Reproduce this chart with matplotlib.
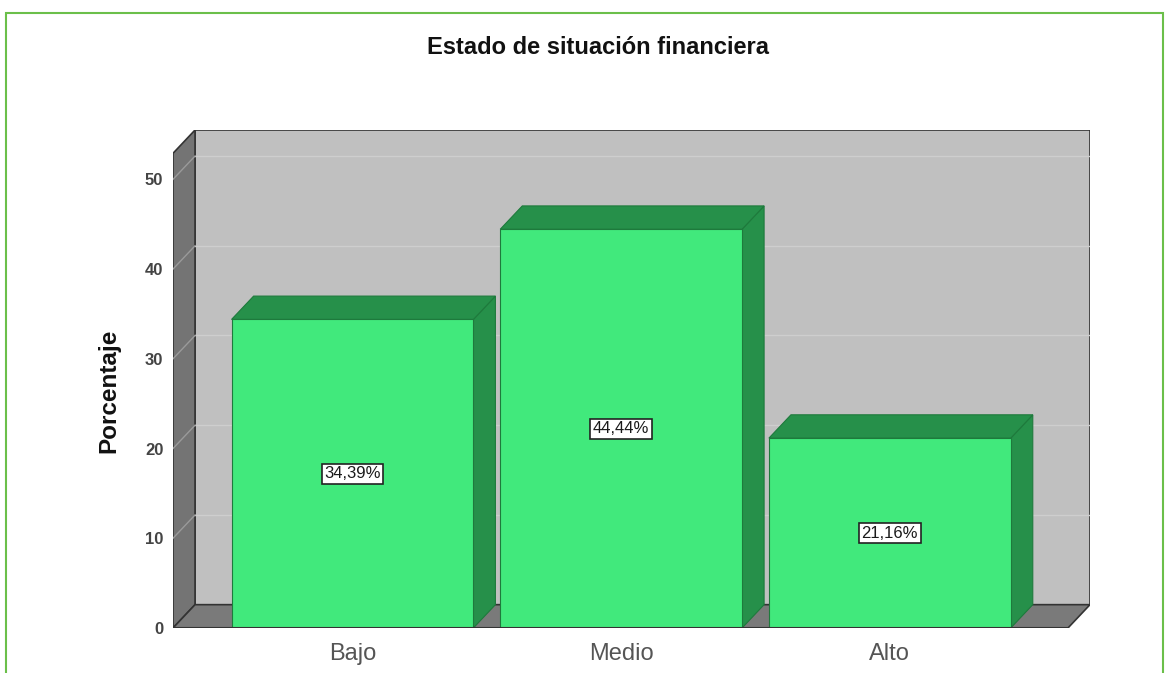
import matplotlib.pyplot as plt
from matplotlib.patches import Polygon, Rectangle

plt.rcParams['font.family'] = ['Liberation Sans', 'DejaVu Sans']

# datos
categorias = ['Bajo', 'Medio', 'Alto']
porcentajes = [34.39, 44.44, 21.16]
etiquetas = ['34,39%', '44,44%', '21,16%']
y_ticks = [0, 10, 20, 30, 40, 50]

titulo = 'Estado de situación financiera'
eje_y = 'Porcentaje'

# colores estilo SPSS
verde = '#41e97c'
verde_osc = '#26904a'
pared = '#c0c0c0'
pared_izq = '#747474'
piso = '#7a7a7a'

ancho = 0.9
dx, dy = 0.082, 2.6   # profundidad del efecto 3D
x0, x1 = -0.668, 2.745
ytop = 55.5

fig = plt.figure(figsize=(11.69, 6.73), dpi=100)
ax = fig.add_axes([173 / 1169, 45 / 673, (1090 - 173) / 1169, 498 / 673])
ax.set_xlim(x0, x1)
ax.set_ylim(0, ytop)

# pared de fondo
ax.add_patch(Polygon([(x0 + dx, dy), (x1, dy), (x1, ytop), (x0 + dx, ytop)],
                     closed=True, fc=pared, ec='#333333', lw=1.2, zorder=1))
# pared izquierda
ax.add_patch(Polygon([(x0, 0), (x0 + dx, dy), (x0 + dx, ytop), (x0, ytop - dy)],
                     closed=True, fc=pared_izq, ec='#333333', lw=1.2, zorder=1))
# piso
ax.add_patch(Polygon([(x0, 0), (x0 + dx, dy), (x1, dy), (x1 - dx, 0)],
                     closed=True, fc=piso, ec='#333333', lw=1.2, zorder=1))

# líneas de cuadrícula
for v in y_ticks[1:]:
    ax.plot([x0 + dx, x1], [v + dy, v + dy], color='#cecece', lw=1, zorder=2)
    ax.plot([x0, x0 + dx], [v, v + dy], color='#9a9a9a', lw=1, zorder=2)

# barras
for i, (h, lab) in enumerate(zip(porcentajes, etiquetas)):
    xl = i - ancho / 2
    xr = i + ancho / 2
    ax.bar(i, h, width=ancho, color=verde, edgecolor='#1e7a3c', lw=0.8, zorder=4)
    ax.add_patch(Polygon([(xr, 0), (xr + dx, dy), (xr + dx, h + dy), (xr, h)],
                         closed=True, fc=verde_osc, ec='#1e7a3c', lw=0.8, zorder=3))
    ax.add_patch(Polygon([(xl, h), (xl + dx, h + dy), (xr + dx, h + dy), (xr, h)],
                         closed=True, fc=verde_osc, ec='#1e7a3c', lw=0.8, zorder=3))
    ax.text(i, h / 2, lab, ha='center', va='center', fontsize=12, color='#1a1a1a',
            zorder=5, bbox=dict(boxstyle='square,pad=0.15', fc='white', ec='#222222', lw=1.2))

ax.plot([x0, x1 - dx], [0, 0], color='#333333', lw=1.5, zorder=5)

ax.set_xticks(range(len(categorias)))
ax.set_xticklabels(categorias, fontsize=17, color='#555555')
ax.set_yticks(y_ticks)
ax.set_yticklabels([str(v) for v in y_ticks], fontsize=12, fontweight='bold', color='#444444')
ax.tick_params(length=0, pad=7)
ax.tick_params(axis='x', pad=11)
for s in ax.spines.values():
    s.set_visible(False)
ax.set_ylabel(eje_y, fontsize=17.5, fontweight='bold', color='#111111')
ax.yaxis.set_label_coords((120 - 173) / 917, (628 - 391) / 498)

fig.text(598 / 1169, 1 - 47 / 673, titulo, ha='center', va='center',
         fontsize=17, fontweight='bold', color='#111111')

# marco verde
fig.patches.append(Rectangle((6 / 1169, -0.05), (1163 - 6) / 1169, 1.05 - 13 / 673,
                             transform=fig.transFigure, fill=False,
                             ec='#6bbf4a', lw=1.5))

fig.savefig('out.png', dpi=100)
